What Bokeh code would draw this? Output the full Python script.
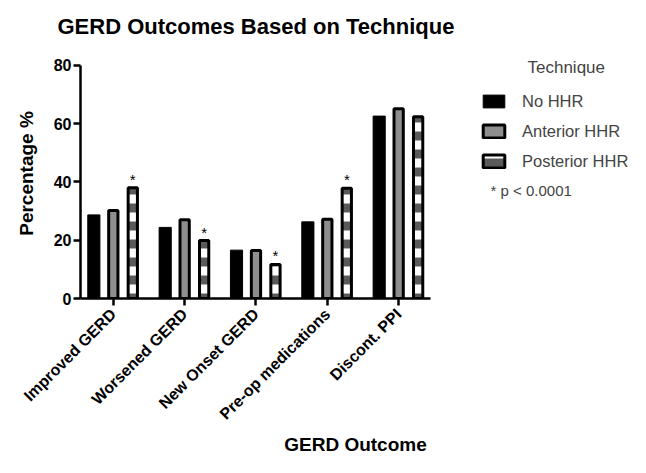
from math import pi
from bokeh.plotting import figure
from bokeh.models import Range1d, FixedTicker, Legend, LegendItem, Label
from bokeh.core.properties import value
from bokeh.embed import file_html
from bokeh.resources import INLINE

# ---- data ----
categories = ["Improved GERD", "Worsened GERD", "New Onset GERD", "Pre-op medications", "Discont. PPI"]
series_names = ["No HHR", "Anterior HHR", "Posterior HHR"]
no_hhr = [28.7, 24.4, 16.6, 26.3, 62.6]
anterior_hhr = [30.2, 27.0, 16.5, 27.2, 65.1]
posterior_hhr = [38.0, 19.9, 11.7, 37.8, 62.4]
significant = [True, True, True, True, False]
y_ticks = [0, 20, 40, 60, 80]
legend_title = "Technique"
p_note = "* p < 0.0001"

FONT = "Liberation Sans"
OFF = 0.273

idx = list(range(len(categories)))
x_no = [i - OFF for i in idx]
x_an = list(idx)
x_po = [i + OFF for i in idx]

p = figure(width=630, height=457, x_range=Range1d(-0.46, 7.25), y_range=Range1d(0, 85.8),
           output_backend="svg", toolbar_location=None,
           min_border_left=80, min_border_right=0, min_border_top=48, min_border_bottom=158)
p.outline_line_color = None
p.xgrid.visible = False
p.ygrid.visible = False

p.title.text = "GERD Outcomes Based on Technique"
p.title.text_font = FONT
p.title.text_font_size = "22px"
p.title.text_font_style = "bold"
p.title.text_color = "black"
p.title.align = "left"
p.title.vertical_align = "top"
p.title.offset = -23
p.title.standoff = 16

r1 = p.vbar(x=x_no, top=no_hhr, width=0.17, fill_color="black", line_color="black", line_width=1)
r2 = p.vbar(x=x_an, top=anterior_hhr, width=0.13, fill_color="#8e8e8e", line_color="black", line_width=3)
r3 = p.vbar(x=x_po, top=posterior_hhr, width=0.13, fill_color="white", hatch_pattern="horizontal_line",
            hatch_color="#5a5a5a", hatch_scale=18, hatch_weight=9, line_color="black", line_width=3)

sx = [x for x, s in zip(x_po, significant) if s]
sy = [y for y, s in zip(posterior_hhr, significant) if s]
p.text(x=sx, y=sy, text=["*"] * len(sx), text_align="center", text_baseline="bottom",
       text_font=value(FONT), text_font_size="15px", text_color="black", y_offset=0)

legend = Legend(items=[LegendItem(label=series_names[0], renderers=[r1]),
                       LegendItem(label=series_names[1], renderers=[r2]),
                       LegendItem(label=series_names[2], renderers=[r3])],
                location=(400, 127), padding=0, margin=0, spacing=10,
                glyph_width=27, glyph_height=16, label_standoff=15, label_height=20,
                label_text_font=FONT, label_text_font_size="16.5px",
                border_line_alpha=0, background_fill_alpha=0)
p.add_layout(legend)

p.add_layout(Label(x=447, y=231, x_units="screen", y_units="screen", text=legend_title,
                   text_font=FONT, text_font_size="17px", text_baseline="middle"))
p.add_layout(Label(x=410, y=108, x_units="screen", y_units="screen", text=p_note,
                   text_font=FONT, text_font_size="15px", text_baseline="middle"))

for ax in (p.xaxis[0], p.yaxis[0]):
    ax.axis_line_width = 2.5
    ax.axis_line_color = "black"
    ax.major_tick_line_width = 2.5
    ax.major_tick_line_color = "black"
    ax.major_tick_out = 7
    ax.major_tick_in = 0
    ax.minor_tick_line_color = None
    ax.major_label_text_font = FONT
    ax.major_label_text_font_size = "16px"
    ax.major_label_text_font_style = "bold"
    ax.major_label_text_color = "black"
    ax.axis_label_text_font = FONT
    ax.axis_label_text_font_size = "19px"
    ax.axis_label_text_font_style = "bold"
    ax.axis_label_text_color = "black"

p.yaxis.bounds = (0, 80)
p.yaxis.ticker = FixedTicker(ticks=y_ticks)
p.yaxis.major_label_standoff = 2
p.yaxis.axis_label = "Percentage %"
p.yaxis.axis_label_standoff = 14

p.xaxis.bounds = (-0.46, 4.45)
p.xaxis.ticker = FixedTicker(ticks=idx)
p.xaxis.major_label_overrides = {i: c for i, c in enumerate(categories)}
p.xaxis.major_label_orientation = pi / 4
p.xaxis.major_label_standoff = 6
p.xaxis.axis_label = "GERD Outcome"
p.xaxis.axis_label_standoff = 2

open("out.html", "w").write(file_html(p, INLINE))
